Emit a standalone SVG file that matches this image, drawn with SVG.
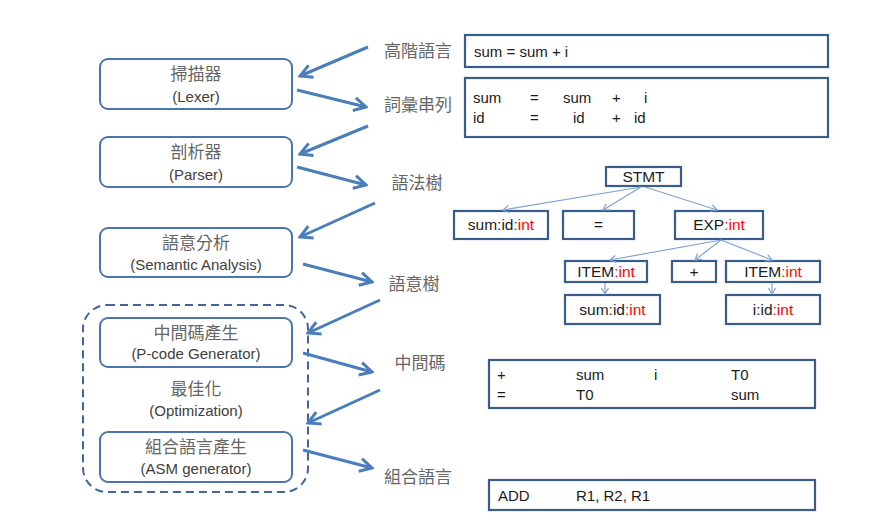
<svg xmlns="http://www.w3.org/2000/svg" width="869" height="532" viewBox="0 0 869 532">
<defs>
<style>
.lb{fill:#fff;stroke:#4a76ad;stroke-width:2}
.rb{fill:#fff;stroke:#385d8a;stroke-width:2.2}
.cj{font-family:"Noto Sans CJK TC","Noto Sans CJK SC",sans-serif;font-size:17px;fill:#666666}
.la{font-family:"Liberation Sans",Arial,sans-serif;font-size:15px;fill:#404040}
.tx{font-family:"Liberation Sans",Arial,sans-serif;font-size:15px;fill:#1a1a1a}
.tt{font-family:"Liberation Sans",Arial,sans-serif;font-size:15.5px;fill:#1a1a1a}
.red{fill:#ff0000}
.arr{stroke:#4a7ebb;stroke-width:3;fill:none;marker-end:url(#ah)}
.te{stroke:#7fa2d4;stroke-width:1.2;fill:none;marker-end:url(#th)}
</style>
<marker id="ah" viewBox="0 0 16 16" refX="14" refY="8" markerWidth="16" markerHeight="16" markerUnits="userSpaceOnUse" orient="auto">
<path d="M2,1.5 L14,8 L2,14.5" fill="none" stroke="#4a7ebb" stroke-width="3"/>
</marker>
<marker id="th" viewBox="0 0 10 10" refX="8" refY="5" markerWidth="10" markerHeight="10" markerUnits="userSpaceOnUse" orient="auto">
<path d="M2,1.5 L8,5 L2,8.5" fill="none" stroke="#7fa2d4" stroke-width="1.2"/>
</marker>
</defs>
<rect width="869" height="532" fill="#fff"/>

<g id="optimization-group">
<rect x="83" y="305" width="225" height="187" rx="24" fill="none" stroke="#41679a" stroke-width="2" stroke-dasharray="8 5"/>
<text class="cj" x="196" y="395" text-anchor="middle">最佳化</text>
<text class="la" x="196" y="416" text-anchor="middle">(Optimization)</text>
</g>

<g id="lexer">
<rect class="lb" x="100" y="59" width="192" height="50" rx="8"/>
<text class="cj" x="196" y="80" text-anchor="middle">掃描器</text>
<text class="la" x="196" y="102" text-anchor="middle">(Lexer)</text>
</g>
<g id="parser">
<rect class="lb" x="100" y="137" width="192" height="50" rx="8"/>
<text class="cj" x="196" y="158" text-anchor="middle">剖析器</text>
<text class="la" x="196" y="180" text-anchor="middle">(Parser)</text>
</g>
<g id="semantic">
<rect class="lb" x="100" y="228" width="192" height="49" rx="8"/>
<text class="cj" x="196" y="249" text-anchor="middle">語意分析</text>
<text class="la" x="196" y="270" text-anchor="middle">(Semantic Analysis)</text>
</g>
<g id="pcode">
<rect class="lb" x="100" y="318" width="192" height="49" rx="8"/>
<text class="cj" x="196" y="339" text-anchor="middle">中間碼產生</text>
<text class="la" x="196" y="359" text-anchor="middle">(P-code Generator)</text>
</g>
<g id="asm">
<rect class="lb" x="100" y="432" width="192" height="50" rx="8"/>
<text class="cj" x="196" y="453" text-anchor="middle">組合語言產生</text>
<text class="la" x="196" y="474" text-anchor="middle">(ASM generator)</text>
</g>

<g id="labels">
<text class="cj" x="418" y="57" text-anchor="middle">高階語言</text>
<text class="cj" x="418" y="111" text-anchor="middle">詞彙串列</text>
<text class="cj" x="417" y="189" text-anchor="middle">語法樹</text>
<text class="cj" x="414" y="290" text-anchor="middle">語意樹</text>
<text class="cj" x="420" y="369" text-anchor="middle">中間碼</text>
<text class="cj" x="418" y="483" text-anchor="middle">組合語言</text>
</g>

<g id="source">
<rect class="rb" x="465" y="35" width="363" height="32"/>
<text class="tx" x="474" y="57">sum = sum + i</text>
</g>
<g id="tokens">
<rect class="rb" x="465" y="78" width="363" height="59"/>
<text class="tx" x="473" y="103">sum</text>
<text class="tx" x="530" y="103">=</text>
<text class="tx" x="563" y="103">sum</text>
<text class="tx" x="612" y="103">+</text>
<text class="tx" x="644" y="103">i</text>
<text class="tx" x="473" y="123">id</text>
<text class="tx" x="530" y="123">=</text>
<text class="tx" x="573" y="123">id</text>
<text class="tx" x="612" y="123">+</text>
<text class="tx" x="634" y="123">id</text>
</g>

<g id="tree">
<g id="t-stmt"><rect class="rb" x="606" y="167" width="75" height="19"/><text class="tt" x="643.5" y="182" text-anchor="middle">STMT</text></g>
<g id="t-sum"><rect class="rb" x="454" y="211" width="94" height="28"/><text class="tt" x="501" y="230" text-anchor="middle">sum:id<tspan class="red">:int</tspan></text></g>
<g id="t-eq"><rect class="rb" x="563" y="211" width="71" height="28"/><text class="tt" x="598.5" y="230" text-anchor="middle">=</text></g>
<g id="t-exp"><rect class="rb" x="675" y="211" width="88" height="28"/><text class="tt" x="719" y="230" text-anchor="middle">EXP<tspan class="red">:int</tspan></text></g>
<g id="t-item1"><rect class="rb" x="565" y="261" width="82" height="21"/><text class="tt" x="606" y="277" text-anchor="middle">ITEM<tspan class="red">:int</tspan></text></g>
<g id="t-plus"><rect class="rb" x="672" y="261" width="44" height="21"/><text class="tt" x="694" y="277" text-anchor="middle">+</text></g>
<g id="t-item2"><rect class="rb" x="726" y="261" width="94" height="21"/><text class="tt" x="773" y="277" text-anchor="middle">ITEM<tspan class="red">:int</tspan></text></g>
<g id="t-sumid"><rect class="rb" x="565" y="295" width="95" height="29"/><text class="tt" x="612.5" y="315" text-anchor="middle">sum:id<tspan class="red">:int</tspan></text></g>
<g id="t-iid"><rect class="rb" x="726" y="295" width="94" height="29"/><text class="tt" x="773" y="315" text-anchor="middle">i:id<tspan class="red">:int</tspan></text></g>
</g>

<g id="pcode-box">
<rect class="rb" x="489" y="360" width="326" height="48"/>
<text class="tx" x="497" y="380">+</text>
<text class="tx" x="576" y="380">sum</text>
<text class="tx" x="654" y="380">i</text>
<text class="tx" x="731" y="380">T0</text>
<text class="tx" x="497" y="400">=</text>
<text class="tx" x="576" y="400">T0</text>
<text class="tx" x="731" y="400">sum</text>
</g>
<g id="asm-box">
<rect class="rb" x="489" y="480" width="326" height="30"/>
<text class="tx" x="498" y="501">ADD</text>
<text class="tx" x="576" y="501">R1, R2, R1</text>
</g>

<g id="connectors">
<line class="arr" x1="368" y1="47" x2="300" y2="76"/>
<line class="arr" x1="297" y1="90" x2="366" y2="107"/>
<line class="arr" x1="368" y1="126" x2="300" y2="154"/>
<line class="arr" x1="297" y1="167" x2="366" y2="185"/>
<line class="arr" x1="375" y1="203" x2="300" y2="237"/>
<line class="arr" x1="303" y1="264" x2="372" y2="282"/>
<line class="arr" x1="380" y1="300" x2="308" y2="333"/>
<line class="arr" x1="303" y1="353" x2="372" y2="372"/>
<line class="arr" x1="380" y1="390" x2="308" y2="423"/>
<line class="arr" x1="303" y1="450" x2="372" y2="468"/>
<line class="te" x1="641" y1="187" x2="503" y2="210"/>
<line class="te" x1="641" y1="187" x2="603" y2="210"/>
<line class="te" x1="645" y1="187" x2="717" y2="210"/>
<line class="te" x1="721" y1="240" x2="610" y2="260"/>
<line class="te" x1="721" y1="240" x2="695" y2="260"/>
<line class="te" x1="721" y1="240" x2="772" y2="260"/>
<line class="te" x1="605" y1="283" x2="605" y2="294"/>
<line class="te" x1="772" y1="283" x2="772" y2="294"/>
</g>
</svg>
